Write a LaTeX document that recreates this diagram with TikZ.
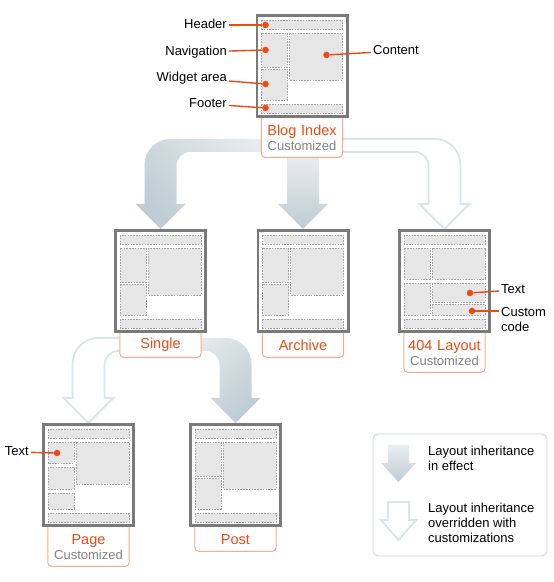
\documentclass[tikz,border=0pt]{standalone}
\usepackage{fontspec}
\setmainfont{Liberation Sans}
\usetikzlibrary{positioning,calc,backgrounds}

\definecolor{accent}{RGB}{236,76,20}
\definecolor{tagborder}{RGB}{246,172,140}
\definecolor{framegray}{RGB}{122,122,122}
\definecolor{panelfill}{RGB}{230,230,230}
\definecolor{paneldash}{RGB}{165,165,165}
\definecolor{shadelight}{RGB}{234,238,240}
\definecolor{shadedark}{RGB}{190,204,212}
\definecolor{hollowline}{RGB}{218,228,233}
\definecolor{keyborder}{RGB}{200,213,221}
\definecolor{subgray}{RGB}{130,130,130}

\newcommand\titlefont{\fontsize{14.5}{16}\selectfont}
\newcommand\notefont{\fontsize{13}{15}\selectfont}
\newcommand\custline{\\[-1pt]{\notefont\color{subgray}Customized}}
\newcommand\stdlist{6/6/87/15, 6/19/32/53, 6/55/32/86, 34/19/87/66, 6/90/87/99}
\newcommand\panels[2]{\foreach \a/\b/\c/\d in #2
  \draw[panel] ([shift={(\a,-\b)}]#1.north west) rectangle ([shift={(\c,-\d)}]#1.north west);}
\newcommand\inherit[3]{%
  \path[#1] let \p1=(#2), \p2=(#3.north), \n1={sign(\x1-\x2)} in
    (\x1,\y1+6.5pt) -- ({\x2+\n1*10pt},\y1+6.5pt)
    arc[start angle=90, end angle={90+90*\n1}, radius=26pt]
    -- ({\x2-\n1*16pt},\y2+25pt) -- ({\x2-\n1*25pt},\y2+25pt) -- (\x2,\y2)
    -- ({\x2+\n1*25pt},\y2+25pt) -- ({\x2+\n1*16pt},\y2+25pt)
    -- ({\x2+\n1*16pt},\y1-20.5pt)
    arc[start angle={90+90*\n1}, end angle=90, radius=14pt]
    -- (\x1,\y1-6.5pt) -- cycle;}

\tikzset{
  page/.style={draw=framegray, fill=white, line width=2.6pt, minimum width=90.4pt, minimum height=101.4pt, inner sep=0pt},
  panel/.style={draw=paneldash, fill=panelfill, line width=0.7pt, dash pattern=on 1.6pt off 1.2pt},
  tag/.style={fill=white, inner sep=0pt, text width=81pt, align=center, minimum height=24pt, font=\titlefont, text=accent, below=0pt of #1},
  tagline/.style={draw=tagborder, line width=1pt, rounded corners=4pt},
  callout/.style={draw=accent, line width=1.4pt},
  dot/.style={circle, fill=accent, inner sep=0pt, minimum size=6.5pt},
  note/.style={font=\notefont, inner sep=2pt},
  calllabel/.style={note, text height=9.5pt, text depth=2.5pt},
  solidflow/.style={top color=shadelight, bottom color=shadedark},
  hollowflow/.style={draw=hollowline, line width=1.8pt, fill=white},
}

\begin{document}
\begin{tikzpicture}[x=1pt, y=1pt]
\useasboundingbox (0,0) rectangle (554,582);

\node[page] (blog) at (302,516) {};
\node[page] (single) at (160.5,301) {};
\node[page] (archive) at (303,301) {};
\node[page] (notfound) at (444.5,301) {};
\node[page] (page) at (88.5,107) {};
\node[page] (post) at (235.5,107) {};

\panels{blog}{\stdlist}
\panels{single}{\stdlist}
\panels{archive}{\stdlist}
\panels{post}{\stdlist}
\panels{notfound}{{6/6/87/15, 6/19/32/50, 6/54/32/86, 34/19/87/50, 34/54/87/73, 34/75/87/86, 6/90/87/99}}
\panels{page}{{6/6/87/15, 6/19/32/40, 6/44/32/66, 6/70/32/86, 34/19/87/61, 6/90/87/99}}

\node[tag=blog, minimum height=39pt] (bltag) {Blog Index\custline};
\node[tag=single] (sgtag) {Single};
\node[tag=archive] (artag) {Archive};
\node[tag=notfound, minimum height=39pt] (nftag) {404 Layout\custline};
\node[tag=page, minimum height=39pt] (pgtag) {Page\custline};
\node[tag=post] (pstag) {Post};
\foreach \t in {bltag,sgtag,artag,nftag,pgtag,pstag}
  \draw[tagline] (\t.north west) |- (\t.south) -| (\t.north east);

\node[calllabel, anchor=east] (hdr) at (229,557) {Header};
\node[calllabel, anchor=east] (nav) at (229,530) {Navigation};
\node[calllabel, anchor=east] (wdg) at (229,504) {Widget area};
\node[calllabel, anchor=east] (ftr) at (229,478) {Footer};
\node[calllabel, anchor=west] (cnt) at (371,531) {Content};
\node[dot] (hdrdot) at ([shift={(10,-11)}]blog.north west) {};
\node[dot] (navdot) at ([shift={(10,-36)}]blog.north west) {};
\node[dot] (wdgdot) at ([shift={(10,-70)}]blog.north west) {};
\node[dot] (ftrdot) at ([shift={(10,-94)}]blog.north west) {};
\node[dot] (cntdot) at ([shift={(71,-41)}]blog.north west) {};
\draw[callout] (hdr) -- (hdrdot);
\draw[callout] (nav) -- (navdot);
\draw[callout] (wdg) -- (wdgdot);
\draw[callout] (ftr) -- (ftrdot);
\draw[callout] (cnt) -- (cntdot);

\node[calllabel, anchor=west] (nftxt) at (499,292) {Text};
\node[note, anchor=north west, align=left] (nfcode) at (499,277) {Custom\\code};
\node[dot] (nftxtdot) at ([shift={(72,-64)}]notfound.north west) {};
\node[dot] (nfcodedot) at ([shift={(74,-82)}]notfound.north west) {};
\draw[callout] (nftxt) -- (nftxtdot);
\draw[callout] (nfcodedot) -- (nfcodedot -| nfcode.west);

\node[calllabel, anchor=east] (pgtxt) at (31,130) {Text};
\node[dot] (pgtxtdot) at ([shift={(15,-30)}]page.north west) {};
\draw[callout] (pgtxt) -- (pgtxtdot);

\begin{scope}[on background layer]
  \inherit{solidflow, shading angle=-45}{[yshift=12pt]bltag.south}{single}
  \inherit{hollowflow}{[yshift=12pt]bltag.south}{notfound}
  \path[solidflow] let \p1=(bltag.south), \p2=(archive.north) in
    (\x2-16pt,\y1+4pt) -- (\x2-16pt,\y2+25pt) -- (\x2-25pt,\y2+25pt) -- (\x2,\y2)
    -- (\x2+25pt,\y2+25pt) -- (\x2+16pt,\y2+25pt) -- (\x2+16pt,\y1+4pt) -- cycle;
  \inherit{hollowflow}{[yshift=13pt]sgtag.south}{page}
  \inherit{solidflow, shading angle=45}{[yshift=13pt]sgtag.south}{post}
\end{scope}

\node[draw=keyborder, line width=0.8pt, rounded corners=5pt, minimum width=174pt, minimum height=122pt] (key) at (460,87) {};
\node[note, anchor=west, align=left] (keysolid) at (426,124) {Layout inheritance\\in effect};
\node[note, anchor=west, align=left] (keyhollow) at (426,59) {Layout inheritance\\overridden with\\customizations};
\path[solidflow] (388,137) -- (388,119) -- (381,119) -- (398.5,100) -- (416,119) -- (409,119) -- (409,137) -- cycle;
\path[hollowflow] (388,80) -- (388,62) -- (381,62) -- (398.5,42) -- (416,62) -- (409,62) -- (409,80) -- cycle;
\end{tikzpicture}
\end{document}
